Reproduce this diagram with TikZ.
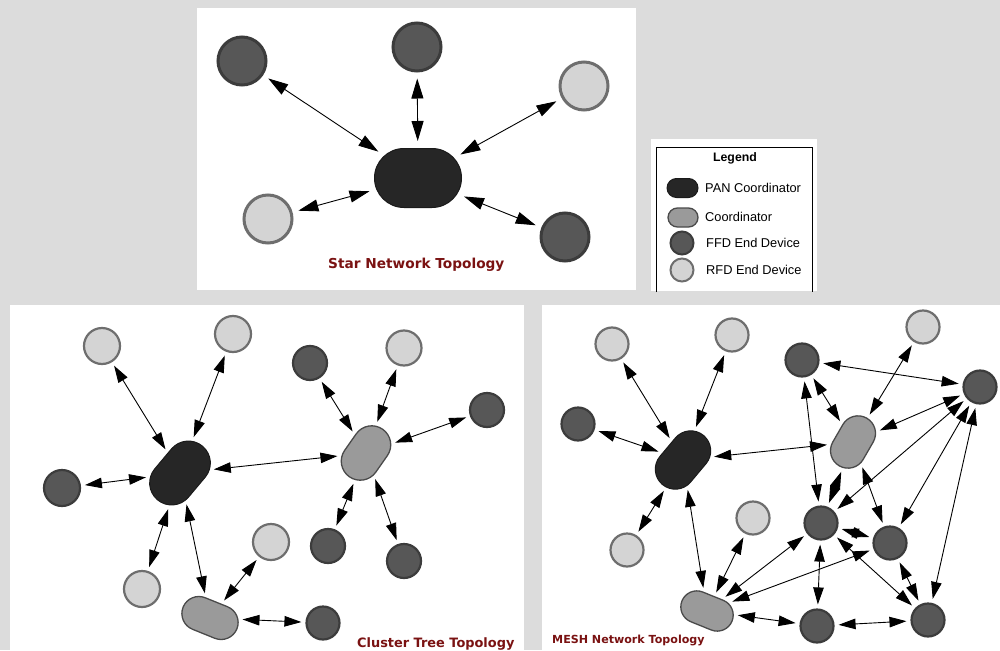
\documentclass[tikz,border=0pt]{standalone}
\usepackage{fontspec}
\setmainfont{Liberation Sans}
\newfontfamily\capfont{DejaVu Sans}
\usetikzlibrary{arrows.meta,shapes.misc}
\definecolor{bgc}{HTML}{DCDCDC}
\definecolor{panfill}{HTML}{262626}
\definecolor{panline}{HTML}{1A1A1A}
\definecolor{cofill}{HTML}{9A9A9A}
\definecolor{coline}{HTML}{4A4A4A}
\definecolor{ffdfill}{HTML}{575757}
\definecolor{ffdline}{HTML}{3C3C3C}
\definecolor{rfdfill}{HTML}{D4D4D4}
\definecolor{rfdline}{HTML}{6E6E6E}
\definecolor{capred}{HTML}{7A1212}
\begin{document}
\begin{tikzpicture}[x=1pt,y=-1pt,
  ffd/.style={circle, fill=ffdfill, draw=ffdline, line width=2.2pt, inner sep=0pt, minimum size=#1},
  ffd/.default=33,
  rfd/.style={circle, fill=rfdfill, draw=rfdline, line width=2.2pt, inner sep=0pt, minimum size=#1},
  rfd/.default=33,
  pan/.style={rounded rectangle, fill=panfill, draw=panline, line width=1pt, inner sep=0pt},
  coord/.style={rounded rectangle, fill=cofill, draw=coline, line width=1.3pt, inner sep=0pt},
  arr/.style={<->, >={Triangle[length=17pt,width=10.5pt]}, line width=0.9pt, shorten <=4pt, shorten >=4pt},
  bigarr/.style={<->, >={Triangle[length=20pt,width=12pt]}, line width=0.9pt, shorten <=6pt, shorten >=7pt},
  caption/.style={anchor=base west, inner sep=0pt, text=capred, font=\capfont\bfseries},
  legtext/.style={anchor=west, inner sep=0pt, font=\fontsize{12.8}{15}\selectfont}
]
\useasboundingbox (0,0) rectangle (1000,650);
\fill[bgc] (0,0) rectangle (1000,650);
% panels
\fill[white] (197,8) rectangle (636,290);
\fill[white] (651,139) rectangle (817,291);
\fill[white] (10,305) rectangle (524,650);
\fill[white] (542,305) rectangle (1000,650);

% ---------- Star ----------
\node[pan, minimum width=87pt, minimum height=59pt] (sp) at (418,178) {};
\node[ffd=48, line width=3pt] (s1) at (242,61) {};
\node[ffd=48, line width=3pt] (s2) at (417,47) {};
\node[rfd=48, line width=3pt] (s3) at (584,86) {};
\node[rfd=48, line width=3pt] (s4) at (268,219) {};
\node[ffd=48, line width=3pt] (s5) at (565,237) {};
\foreach \n in {s1,s2,s3,s4,s5} \draw[bigarr] (\n) -- (sp);
\node[caption, font=\capfont\bfseries\fontsize{13.7}{16}\selectfont] (scap) at (328,268) {Star Network Topology};

% ---------- Legend ----------
\draw[black, line width=0.8pt] (656,292) -- (656,147) -- (812,147) -- (812,292);
\node[anchor=center, inner sep=0pt, font=\bfseries\fontsize{12.3}{14}\selectfont] (legt) at (735,158) {Legend};
\node[pan, minimum width=31pt, minimum height=19pt] (lpan) at (682.5,188) {};
\node[legtext] (lpant) at (705,188) {PAN Coordinator};
\node[coord, minimum width=30pt, minimum height=19pt] (lco) at (683,217.5) {};
\node[legtext] (lcot) at (705,217) {Coordinator};
\node[ffd=23, line width=2pt] (lffd) at (682,243) {};
\node[legtext] (lffdt) at (706,243) {FFD End Device};
\node[rfd=23, line width=2pt] (lrfd) at (682,270) {};
\node[legtext] (lrfdt) at (706,270) {RFD End Device};

% ---------- Cluster tree ----------
\node[pan, minimum width=70pt, minimum height=44pt, rotate=50] (cp) at (180,473) {};
\node[coord, minimum width=58pt, minimum height=34pt, rotate=-22] (cb) at (210,618) {};
\node[coord, minimum width=58pt, minimum height=38pt, rotate=55] (cr) at (366,453) {};
\node[rfd=36] (c1) at (102,346) {};
\node[rfd=36] (c2) at (233,334) {};
\node[ffd=36] (c3) at (62,488) {};
\node[rfd=36] (c4) at (142,589) {};
\node[rfd=36] (c5) at (271,542) {};
\node[ffd=33] (c6) at (323,623) {};
\node[ffd=34] (c7) at (310,363) {};
\node[rfd=35] (c8) at (404,348) {};
\node[ffd=34] (c9) at (487,410) {};
\node[ffd=34] (c10) at (328,546) {};
\node[ffd=34] (c11) at (404,561) {};
\foreach \n in {c1,c2,c3,c4,cb,cr} \draw[arr] (\n) -- (cp);
\draw[arr] (cb) -- (c5);
\draw[arr] (cb) -- (c6);
\foreach \n in {c7,c8,c9,c10,c11} \draw[arr] (\n) -- (cr);
\node[caption, font=\capfont\bfseries\fontsize{12.9}{15}\selectfont] (ccap) at (357,647) {Cluster Tree Topology};

% ---------- Mesh ----------
\node[pan, minimum width=64pt, minimum height=40pt, rotate=50] (mp) at (683,460) {};
\node[coord, minimum width=54pt, minimum height=32pt, rotate=-22] (mb) at (707,611) {};
\node[coord, minimum width=55pt, minimum height=35pt, rotate=60] (mr) at (853,442) {};
\node[rfd] (m1) at (612,344) {};
\node[rfd] (m2) at (732,335) {};
\node[ffd] (m3) at (578,424) {};
\node[rfd] (m4) at (627,550) {};
\node[rfd] (m5) at (753,518) {};
\node[ffd] (d1) at (802,360) {};
\node[rfd] (m6) at (923,327) {};
\node[ffd] (d2) at (980,387) {};
\node[ffd] (d3) at (821,523) {};
\node[ffd] (d4) at (890,543) {};
\node[ffd] (d5) at (817,626) {};
\node[ffd] (d6) at (928,620) {};
\foreach \n in {m1,m2,m3,m4,mb,mr} \draw[arr] (\n) -- (mp);
\draw[arr] (mb) -- (m5);
\draw[arr] (mb) -- (d5);
\draw[arr] (mb) -- (d3);
\draw[arr] (mb) -- (d4);
\draw[arr] (d5) -- (d6);
\draw[arr] (d5) -- (d3);
\draw[arr] (d3) -- (d6);
\draw[arr] (d3) -- (d4);
\draw[arr] (d3) -- (mr);
\draw[arr] (d3) -- (d1);
\draw[arr] (d3) -- (d2);
\draw[arr] (mr) -- (d1);
\draw[arr] (mr) -- (d2);
\draw[arr] (mr) -- (d4);
\draw[arr] (mr) -- (m6);
\draw[arr] (d1) -- (d2);
\draw[arr] (d4) -- (d2);
\draw[arr] (d4) -- (d6);
\draw[arr] (d6) -- (d2);
\node[caption, font=\capfont\bfseries\fontsize{11.1}{13}\selectfont] (mcap) at (552,643) {MESH Network Topology};
\end{tikzpicture}
\end{document}
